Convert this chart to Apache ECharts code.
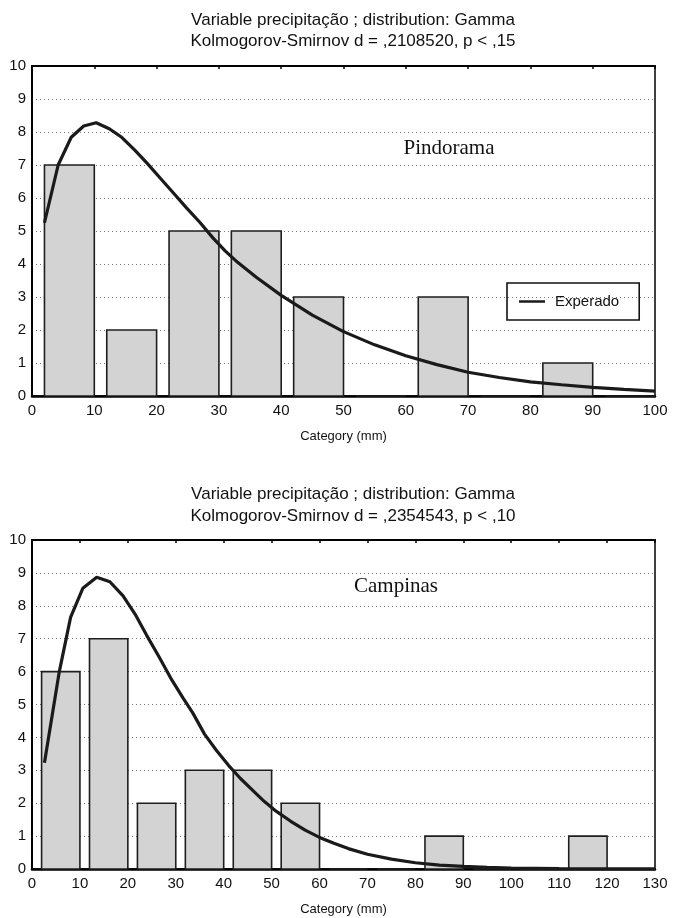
<!DOCTYPE html>
<html>
<head>
<meta charset="utf-8">
<script src="https://cdn.jsdelivr.net/npm/echarts@6/dist/echarts.min.js"></script>
<style>html,body{margin:0;padding:0;background:#fff;}#c{width:673px;height:918px;}</style>
</head>
<body>
<div id="c"></div>
<script>
// ---- Data: Pindorama (top) ----
const topBinStart = [0, 10, 20, 30, 40, 50, 60, 70, 80, 90];
const topCounts   = [7, 2, 5, 5, 3, 0, 3, 0, 1, 0];
const topCurveX = [2, 4.2, 6.3, 8.3, 10.3, 12.4, 14.4, 16.5, 18.5, 20.6, 22.7, 24.8, 27, 29, 31, 33, 36, 40, 45, 50, 55, 60, 65, 70, 75, 80, 85, 90, 95, 100];
const topCurveY = [5.25, 7.0, 7.84, 8.18, 8.28, 8.1, 7.84, 7.45, 7.05, 6.6, 6.15, 5.7, 5.25, 4.8, 4.4, 4.05, 3.6, 3.05, 2.45, 1.95, 1.55, 1.22, 0.95, 0.72, 0.56, 0.43, 0.34, 0.26, 0.2, 0.15];

// ---- Data: Campinas (bottom) ----
const botBinStart = [0, 10, 20, 30, 40, 50, 60, 70, 80, 90, 100, 110, 120];
const botCounts   = [6, 7, 2, 3, 3, 2, 0, 0, 1, 0, 0, 1, 0];
const botCurveX = [2.6, 5.7, 8.05, 10.6, 13.5, 16.25, 19, 21.5, 23.9, 26.5, 29.2, 31.5, 33.6, 36, 38.5, 41, 43.5, 46, 48.5, 51, 54, 57, 60, 63, 66, 70, 75, 80, 85, 90, 95, 100, 110, 120, 130];
const botCurveY = [3.23, 6.0, 7.65, 8.53, 8.87, 8.73, 8.3, 7.75, 7.11, 6.45, 5.74, 5.2, 4.73, 4.1, 3.6, 3.15, 2.75, 2.4, 2.05, 1.75, 1.45, 1.18, 0.96, 0.78, 0.62, 0.45, 0.3, 0.19, 0.12, 0.08, 0.05, 0.03, 0.012, 0.005, 0.002];

const titleLine1 = 'Variable precipitação ; distribution: Gamma';
const topTitle2 = 'Kolmogorov-Smirnov d = ,2108520, p < ,15';
const botTitle2 = 'Kolmogorov-Smirnov d = ,2354543, p < ,10';
const topStation = 'Pindorama';
const botStation = 'Campinas';
const xName = 'Category (mm)';
const legendName = 'Experado';
const binWidth = 10;

const FONT = '"Liberation Sans", Arial, sans-serif';
const SERIF = '"Liberation Serif", "Times New Roman", serif';
const chart = echarts.init(document.getElementById('c'), null, {renderer: 'canvas'});

function barItem(params, api) {
  const lo = api.value(0), hi = api.value(1), v = api.value(2);
  const p1 = api.coord([lo + 2, v]);
  const p2 = api.coord([hi, 0]);
  return {
    type: 'rect',
    shape: {x: p1[0], y: p1[1], width: p2[0] - p1[0], height: p2[1] - p1[1]},
    style: {fill: '#d3d3d3', stroke: '#1e1e1e', lineWidth: 1.6}
  };
}

function xBottom(gi, max) {
  return {
    type: 'value', gridIndex: gi, min: 0, max: max, interval: 10, position: 'bottom',
    axisLine: {show: true, lineStyle: {color: '#000', width: 2.5}},
    axisTick: {show: false},
    axisLabel: {color: '#111', fontSize: 15, fontFamily: FONT, margin: 7},
    splitLine: {show: false},
    name: xName, nameLocation: 'middle', nameGap: 34,
    nameTextStyle: {color: '#111', fontSize: 13, fontFamily: FONT}
  };
}
function xTop(gi, max) {
  return {
    type: 'value', gridIndex: gi, min: 0, max: max, interval: 10, position: 'top',
    axisLine: {show: true, lineStyle: {color: '#000', width: 2}},
    axisTick: {show: true, inside: true, length: 3, lineStyle: {color: '#000', width: 1.5}},
    axisLabel: {show: false}, splitLine: {show: false}
  };
}
function yAx(gi) {
  return {
    type: 'value', gridIndex: gi, min: 0, max: 10, interval: 1,
    axisLine: {show: true, lineStyle: {color: '#000', width: 2}},
    axisTick: {show: false},
    axisLabel: {color: '#111', fontSize: 15, fontFamily: FONT, margin: 6},
    splitLine: {show: true, lineStyle: {color: '#777', type: [1, 3], width: 1}}
  };
}

function txt(x, y, text, font) {
  return {type: 'text', x: x, y: y, z: 10,
    style: {text: text, font: font, fill: '#111', textAlign: 'center', textVerticalAlign: 'middle'}};
}

const option = {
  backgroundColor: '#fff',
  animation: false,
  grid: [
    {left: 32, right: 18, top: 66, height: 330, show: true, borderColor: '#000', borderWidth: 1.5},
    {left: 32, right: 18, top: 540, height: 329, show: true, borderColor: '#000', borderWidth: 1.5}
  ],
  xAxis: [xBottom(0, 100), xTop(0, 100), xBottom(1, 130), xTop(1, 130)],
  yAxis: [yAx(0), yAx(1)],
  legend: {
    data: [legendName], left: 507, top: 283,
    borderColor: '#111', borderWidth: 1.6, padding: [11, 20, 11, 12],
    icon: 'rect', itemWidth: 26, itemHeight: 2.5,
    textStyle: {color: '#111', fontSize: 15, fontFamily: FONT, padding: [0, 0, 0, 5]}
  },
  graphic: [
    txt(353, 20, titleLine1, '17px ' + FONT),
    txt(353, 41, topTitle2, '17px ' + FONT),
    txt(353, 494, titleLine1, '17px ' + FONT),
    txt(353, 516, botTitle2, '17px ' + FONT),
    txt(449, 148, topStation, '21px ' + SERIF),
    txt(396, 586, botStation, '21px ' + SERIF)
  ],
  series: [
    {type: 'custom', name: 'bars1', xAxisIndex: 0, yAxisIndex: 0, renderItem: barItem, z: 2,
     encode: {x: [0, 1], y: 2},
     data: topBinStart.map((s, i) => [s, s + binWidth, topCounts[i]])},
    {type: 'line', name: legendName, xAxisIndex: 0, yAxisIndex: 0, symbol: 'none', z: 3,
     lineStyle: {color: '#1a1a1a', width: 3.2}, itemStyle: {color: '#1a1a1a'},
     data: topCurveX.map((x, i) => [x, topCurveY[i]])},
    {type: 'custom', name: 'bars2', xAxisIndex: 2, yAxisIndex: 1, renderItem: barItem, z: 2,
     encode: {x: [0, 1], y: 2},
     data: botBinStart.map((s, i) => [s, s + binWidth, botCounts[i]])},
    {type: 'line', name: 'curve2', xAxisIndex: 2, yAxisIndex: 1, symbol: 'none', z: 3,
     lineStyle: {color: '#1a1a1a', width: 3.2}, itemStyle: {color: '#1a1a1a'},
     data: botCurveX.map((x, i) => [x, botCurveY[i]])}
  ]
};
chart.setOption(option);
</script>
</body>
</html>
